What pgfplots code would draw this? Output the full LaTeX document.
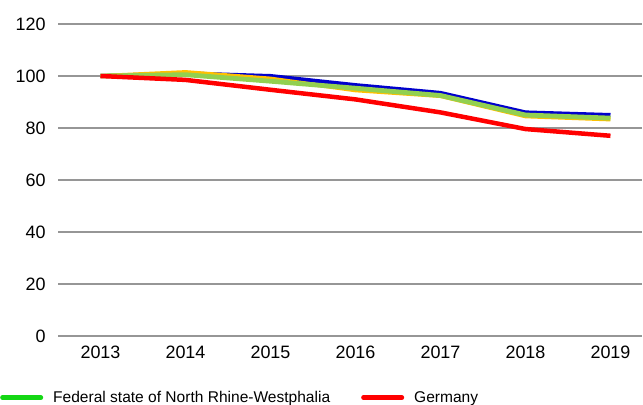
\documentclass[border=0pt]{standalone}
\usepackage{fontspec}
\setmainfont{Liberation Sans}
\usepackage{pgfplots}
\pgfplotsset{compat=1.18}
\definecolor{cblue}{RGB}{0,0,204}
\definecolor{cyellow}{RGB}{255,192,0}
\definecolor{cgreen}{RGB}{146,208,80}
\definecolor{cred}{RGB}{255,0,0}
\definecolor{lgreen}{RGB}{20,215,20}
\definecolor{gridgray}{RGB}{150,150,150}
\begin{document}
\begin{tikzpicture}
\begin{axis}[
  scale only axis, width=583.5bp, height=312bp,
  xmin=-0.5, xmax=6.365, ymin=0, ymax=120,
  xtick={0,...,6}, xticklabels={2013,2014,2015,2016,2017,2018,2019},
  ytick={0,20,...,120},
  ymajorgrids, grid style={draw=gridgray, line width=1.2bp},
  axis line style={draw=none}, tick style={draw=none},
  /pgf/number format/assume math mode=true,
  ticklabel style={font=\fontsize{18}{20}\selectfont},
  yticklabel style={xshift=-9bp},
  xticklabel style={yshift=-6bp},
  legend columns=2,
  legend cell align=left,
  legend style={at={(0,0)}, anchor=north west, xshift=-58bp, yshift=-53bp,
    draw=none, fill=none, inner sep=0pt,
    font=\fontsize{15.6}{17}\selectfont,
    /tikz/every even column/.append style={column sep=29bp}},
  legend image code/.code={\draw[#1, line cap=round] (1.5bp,0bp) -- (40bp,0bp); \path (48bp,0bp);},
]
\addplot[forget plot, cblue, line width=4bp, line join=round] coordinates {(0,100) (1,101) (2,100) (3,96.5) (4,93.5) (5,86) (6,85)};
\addplot[forget plot, cyellow, line width=4bp, line join=round] coordinates {(0,100) (1,101.5) (2,99) (3,94.5) (4,92.3) (5,84.5) (6,83.3)};
\addplot[forget plot, cgreen, line width=4.8bp, line join=round] coordinates {(0,100) (1,100.5) (2,98) (3,95.3) (4,92.5) (5,85) (6,83.8)};
\addplot[forget plot, cred, line width=4.5bp, line join=round] coordinates {(0,100) (1,98.5) (2,94.7) (3,91) (4,86) (5,79.6) (6,77)};
\addlegendimage{lgreen, line width=4.5bp}
\addlegendentry{Federal state of North Rhine-Westphalia}
\addlegendimage{cred, line width=4.5bp}
\addlegendentry{Germany}
\end{axis}
\pgfresetboundingbox
\useasboundingbox (-58bp,-69bp) rectangle (585bp,336bp);
\end{tikzpicture}
\end{document}
